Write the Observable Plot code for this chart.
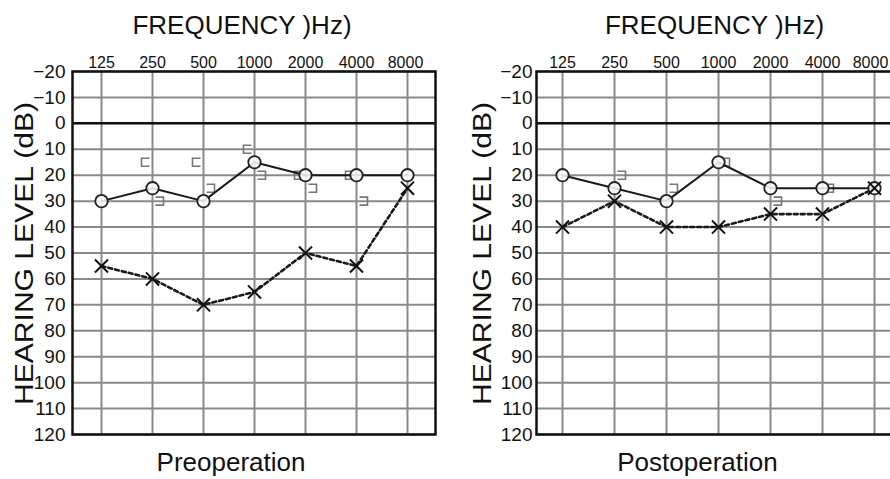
<!DOCTYPE html>
<html>
<head>
<meta charset="utf-8">
<script src="https://cdn.jsdelivr.net/npm/d3@7"></script>
<script src="https://cdn.jsdelivr.net/npm/@observablehq/plot@0.6"></script>
<style>
  html, body { margin: 0; padding: 0; background: #fff; overflow: hidden; }
  #wrap { position: relative; width: 890px; height: 479px; overflow: hidden; background: #fff; }
  #left, #right { position: absolute; top: 0; }
  #left { left: 0; width: 450px; }
  #right { left: 450px; width: 460px; }
  #wrap svg { max-width: none !important; }
</style>
</head>
<body>
<div id="wrap"><div id="left"></div><div id="right"></div></div>
<script>
// ---- data ----
const freqLabels = ["125", "250", "500", "1000", "2000", "4000", "8000"];
const yTicks = [-20, -10, 0, 10, 20, 30, 40, 50, 60, 70, 80, 90, 100, 110, 120];

const preCircle = [30, 25, 30, 15, 20, 20, 20];
const preCross = [55, 60, 70, 65, 50, 55, 25];
const preBracketOpen = [null, 15, 15, 10, 20, 20, null];   // "["
const preBracketClose = [null, 30, 25, 20, 25, 30, null];  // "]"

const postCircle = [20, 25, 30, 15, 25, 25, 25];
const postCross = [40, 30, 40, 40, 35, 35, 25];
const postBracketOpen = [null, null, null, null, null, null, null];
const postBracketClose = [null, 20, 25, 15, 30, 25, null];

const xTitle = "FREQUENCY )Hz)";
const yTitle = "HEARING LEVEL (dB)";
const panelTitles = ["Preoperation", "Postoperation"];

// ---- helpers ----
const rows = (vals) => vals.map((v, i) => ({f: freqLabels[i], db: v})).filter(d => d.db != null);

const openBracket = {
  draw(ctx) { ctx.moveTo(4, -4); ctx.lineTo(-4, -4); ctx.lineTo(-4, 4); ctx.lineTo(4, 4); }
};
const closeBracket = {
  draw(ctx) { ctx.moveTo(-4, -4); ctx.lineTo(4, -4); ctx.lineTo(4, 4); ctx.lineTo(-4, 4); }
};

function audiogram({circle, cross, bOpen, bClose, title, width, marginLeft, marginRight, tickPad, ylabDx, titleDx, capDx, lastTickDx}) {
  const svg = Plot.plot({
    width, height: 479,
    marginTop: 71, marginBottom: 45, marginLeft, marginRight,
    style: {fontFamily: "'Liberation Sans', Arial, sans-serif", color: "#111", background: "white", maxWidth: "none"},
    x: {type: "point", domain: freqLabels, padding: 0.5, align: 0.5},
    y: {domain: [-20, 120], reverse: true},
    marks: [
      Plot.ruleX(freqLabels, {stroke: "#8a8a8a", strokeWidth: 2}),
      Plot.ruleY(yTicks, {stroke: "#8a8a8a", strokeWidth: 2}),
      Plot.ruleY([0], {stroke: "#111", strokeWidth: 2.5}),
      Plot.frame({stroke: "#111", strokeWidth: 2.5}),
      Plot.axisX({ticks: freqLabels.slice(0, -1), anchor: "top", tickSize: 0, tickPadding: 4, fontSize: 16, label: null}),
      Plot.axisX({ticks: freqLabels.slice(-1), anchor: "top", tickSize: 0, tickPadding: 4, fontSize: 16, label: null, dx: lastTickDx}),
      Plot.axisY({ticks: yTicks, tickSize: 0, tickPadding: tickPad, fontSize: 19, label: null}),
      Plot.dot(rows(bOpen), {x: "f", y: "db", symbol: openBracket, dx: -7, stroke: "#777", strokeWidth: 1.6, fill: "none"}),
      Plot.dot(rows(bClose), {x: "f", y: "db", symbol: closeBracket, dx: 7, stroke: "#777", strokeWidth: 1.6, fill: "none"}),
      Plot.line(rows(cross), {x: "f", y: "db", stroke: "#1a1a1a", strokeWidth: 2.6, strokeDasharray: "4,3"}),
      Plot.line(rows(circle), {x: "f", y: "db", stroke: "#1a1a1a", strokeWidth: 2}),
      Plot.dot(rows(circle), {x: "f", y: "db", r: 6.2, stroke: "#222", strokeWidth: 1.8, fill: "white", fillOpacity: 0.85}),
      Plot.dot(rows(cross), {x: "f", y: "db", symbol: "times", r: 6, stroke: "#111", strokeWidth: 2}),
      Plot.text([xTitle], {text: d => d, frameAnchor: "top", lineAnchor: "bottom", dy: -38, dx: titleDx, fontSize: 26, fill: "#111"}),
      Plot.text([title], {text: d => d, frameAnchor: "bottom", lineAnchor: "bottom", dy: 36, dx: capDx, fontSize: 26, fill: "#111"}),
      Plot.text([yTitle], {text: d => d, frameAnchor: "left", lineAnchor: "bottom", textAnchor: "start", rotate: -90, dx: ylabDx, dy: 152, fontSize: 26, fill: "#111"})
    ]
  });
  svg.style.maxWidth = "none";
  d3.select(svg).selectAll("text").filter(function() { return this.textContent === yTitle; })
    .attr("textLength", 303).attr("lengthAdjust", "spacingAndGlyphs");
  return svg;
}

document.getElementById("left").append(audiogram({
  circle: preCircle, cross: preCross, bOpen: preBracketOpen, bClose: preBracketClose,
  title: panelTitles[0], width: 450, marginLeft: 72, marginRight: 15, tickPad: 7,
  ylabDx: -40, titleDx: -12, capDx: -23, lastTickDx: -2
}));
document.getElementById("right").append(audiogram({
  circle: postCircle, cross: postCross, bOpen: postBracketOpen, bClose: postBracketClose,
  title: panelTitles[1], width: 460, marginLeft: 86, marginRight: 10, tickPad: 4,
  ylabDx: -46, titleDx: -4, capDx: -21, lastTickDx: -4
}));
</script>
</body>
</html>
